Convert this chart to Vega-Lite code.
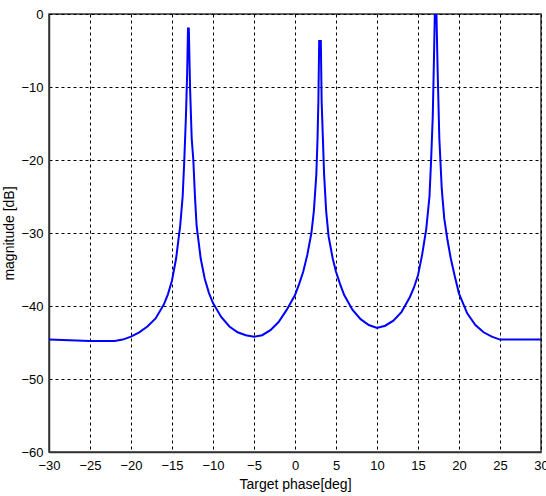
{
  "$schema": "https://vega.github.io/schema/vega-lite/v6.json",
  "width": 492,
  "height": 438,
  "autosize": {"type": "none"},
  "padding": {"left": 49, "top": 14, "right": 5, "bottom": 44},
  "background": "white",
  "config": {
    "view": {"stroke": "#333333", "strokeWidth": 1.5},
    "font": "Liberation Sans"
  },
  "data": {
    "values": [
      {"phase": -30, "mag": -44.6},
      {"phase": -25, "mag": -44.8},
      {"phase": -22, "mag": -44.8},
      {"phase": -21, "mag": -44.6},
      {"phase": -20, "mag": -44.2},
      {"phase": -19, "mag": -43.6},
      {"phase": -18, "mag": -42.8},
      {"phase": -17, "mag": -41.7},
      {"phase": -16, "mag": -39.8},
      {"phase": -15.5, "mag": -38.4},
      {"phase": -15, "mag": -36.5},
      {"phase": -14.5, "mag": -33.5},
      {"phase": -14, "mag": -29},
      {"phase": -13.7, "mag": -25},
      {"phase": -13.5, "mag": -20},
      {"phase": -13.3, "mag": -14},
      {"phase": -13.15, "mag": -8},
      {"phase": -13.05, "mag": -2},
      {"phase": -12.95, "mag": -2},
      {"phase": -12.8, "mag": -10},
      {"phase": -12.6, "mag": -17},
      {"phase": -12.4, "mag": -20},
      {"phase": -12.2, "mag": -25},
      {"phase": -12.0, "mag": -29},
      {"phase": -11.5, "mag": -33.5},
      {"phase": -11, "mag": -36.3},
      {"phase": -10.5, "mag": -38.2},
      {"phase": -10, "mag": -39.6},
      {"phase": -9, "mag": -41.5},
      {"phase": -8, "mag": -42.8},
      {"phase": -7, "mag": -43.6},
      {"phase": -6, "mag": -44.0},
      {"phase": -5, "mag": -44.2},
      {"phase": -4, "mag": -44.0},
      {"phase": -3, "mag": -43.3},
      {"phase": -2, "mag": -42.2},
      {"phase": -1, "mag": -40.5},
      {"phase": 0, "mag": -38.5},
      {"phase": 0.5, "mag": -37},
      {"phase": 1, "mag": -35.3},
      {"phase": 1.5, "mag": -33},
      {"phase": 2, "mag": -30},
      {"phase": 2.3, "mag": -27},
      {"phase": 2.6, "mag": -22},
      {"phase": 2.75, "mag": -17},
      {"phase": 2.85, "mag": -12},
      {"phase": 2.95, "mag": -3.7},
      {"phase": 3.15, "mag": -3.7},
      {"phase": 3.25, "mag": -12},
      {"phase": 3.4, "mag": -17},
      {"phase": 3.55, "mag": -22},
      {"phase": 3.8, "mag": -27},
      {"phase": 4.1, "mag": -30.5},
      {"phase": 4.6, "mag": -33.5},
      {"phase": 5, "mag": -35.3},
      {"phase": 5.5, "mag": -37},
      {"phase": 6, "mag": -38.5},
      {"phase": 7, "mag": -40.5},
      {"phase": 8, "mag": -41.8},
      {"phase": 9, "mag": -42.6},
      {"phase": 10, "mag": -43},
      {"phase": 11, "mag": -42.7},
      {"phase": 12, "mag": -42},
      {"phase": 13, "mag": -40.8},
      {"phase": 14, "mag": -38.8},
      {"phase": 14.5, "mag": -37.5},
      {"phase": 15, "mag": -35.8},
      {"phase": 15.5, "mag": -33},
      {"phase": 16, "mag": -29.5},
      {"phase": 16.4, "mag": -25},
      {"phase": 16.6, "mag": -20},
      {"phase": 16.8, "mag": -14},
      {"phase": 16.95, "mag": -6},
      {"phase": 17.05, "mag": 0},
      {"phase": 17.25, "mag": 0},
      {"phase": 17.4, "mag": -8},
      {"phase": 17.6, "mag": -17},
      {"phase": 17.9, "mag": -24},
      {"phase": 18.2, "mag": -28},
      {"phase": 18.6, "mag": -31},
      {"phase": 19, "mag": -33.5},
      {"phase": 19.5, "mag": -36},
      {"phase": 20, "mag": -38.3},
      {"phase": 21, "mag": -41},
      {"phase": 22, "mag": -42.6},
      {"phase": 23, "mag": -43.6},
      {"phase": 24, "mag": -44.2},
      {"phase": 25, "mag": -44.6},
      {"phase": 30, "mag": -44.6}
    ]
  },
  "mark": {"type": "line", "color": "#0000ff", "strokeWidth": 2, "clip": true},
  "encoding": {
    "x": {
      "field": "phase",
      "type": "quantitative",
      "scale": {"domain": [-30, 30], "nice": false, "zero": false},
      "axis": {
        "title": "Target phase[deg]",
        "values": [-30, -25, -20, -15, -10, -5, 0, 5, 10, 15, 20, 25, 30],
        "grid": true,
        "gridColor": "#000000",
        "gridOpacity": 1,
        "gridDash": [3, 3],
        "gridWidth": 1,
        "domainColor": "#333333",
        "domainWidth": 1.5,
        "ticks": false,
        "labelPadding": 7,
        "labelFontSize": 13,
        "labelColor": "#000000",
        "labelFlush": false,
        "labelFont": "Liberation Sans",
        "titleFont": "Liberation Sans",
        "titleFontSize": 14,
        "titleFontWeight": "normal",
        "titleColor": "#000000",
        "titlePadding": 5
      }
    },
    "y": {
      "field": "mag",
      "type": "quantitative",
      "scale": {"domain": [-60, 0], "nice": false, "zero": false},
      "axis": {
        "title": "magnitude [dB]",
        "values": [-60, -50, -40, -30, -20, -10, 0],
        "grid": true,
        "gridColor": "#000000",
        "gridOpacity": 1,
        "gridDash": [3, 3],
        "gridWidth": 1,
        "domainColor": "#333333",
        "domainWidth": 1.5,
        "ticks": false,
        "labelPadding": 6,
        "labelFontSize": 13,
        "labelColor": "#000000",
        "labelFlush": false,
        "labelFont": "Liberation Sans",
        "titleFont": "Liberation Sans",
        "titleFontSize": 14,
        "titleFontWeight": "normal",
        "titleColor": "#000000",
        "titlePadding": 4
      }
    }
  }
}
